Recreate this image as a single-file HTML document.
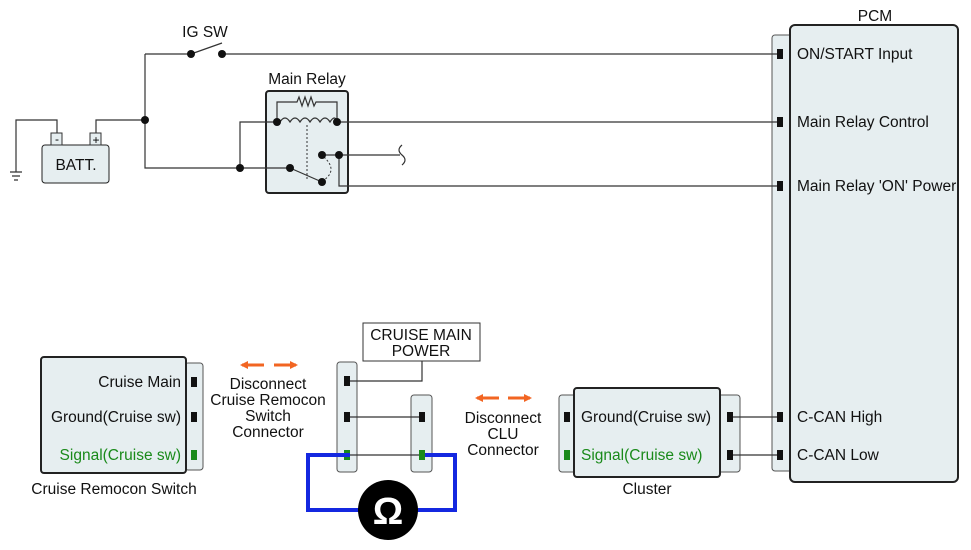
<!DOCTYPE html>
<html><head><meta charset="utf-8"><style>
body{margin:0;background:#fff}
svg{display:block;font-family:"Liberation Sans",Arial,sans-serif}
</style></head><body>
<svg width="971" height="550" viewBox="0 0 971 550" xmlns="http://www.w3.org/2000/svg">
<defs>
<marker id="ar" markerWidth="8" markerHeight="8" refX="6" refY="4" orient="auto" markerUnits="userSpaceOnUse"><path d="M0,0 L8,4 L0,8 z" fill="#f26522"/></marker>
</defs>
<g fill="#e6eef0" stroke="#555" stroke-width="1">
<rect x="772" y="35" width="22" height="436" rx="3"/>
<rect x="185" y="363" width="18" height="107" rx="3"/>
<rect x="337" y="362" width="20" height="110" rx="3"/>
<rect x="411" y="395" width="21" height="77" rx="3"/>
<rect x="559" y="395" width="18" height="77" rx="3"/>
<rect x="716" y="395" width="24" height="77" rx="3"/>
</g>
<g fill="#e6eef0" stroke="#222" stroke-width="2">
<rect x="790" y="25" width="168" height="457" rx="5"/>
<rect x="41" y="357" width="145" height="116" rx="3"/>
<rect x="574" y="388" width="146" height="89" rx="3"/>
<rect x="266" y="91" width="82" height="102" rx="3"/>
<rect x="42" y="145" width="67" height="38" rx="3" stroke-width="1"/>
</g>
<rect x="363" y="323" width="117" height="38" fill="#fff" stroke="#333"/>
<g stroke="#333" stroke-width="1.2" fill="none">
<path d="M145,54 H191 M222,54 H780 M191,54 L222,43"/>
<path d="M145,54 V168 H290 M96,134 V120 H145 M57,134 V120 H16 V172"/>
<path d="M10,172 H22 M12,176 H20 M14,180 H18"/>
<path d="M240,168 V122 H277 M337,122 H780"/>
<path d="M277,122 V102 H297 l2,-5 3,9 3,-9 3,9 3,-9 3,9 2,-4 H337 V122"/>
<path d="M280,122 q5,-8 10,0 q5,-8 10,0 q5,-8 10,0 q5,-8 10,0 q5,-8 10,0 q5,-8 7,0"/>
<path d="M322,155 H400 M339,155 V186 H780 M290,168 L322,182"/>
<path d="M402,145 q-6,5 0,10 q6,5 0,10"/>
<path d="M347,381 H422 V361 M347,417 H422 M347,455 H422 M730,417 H780 M730,455 H780"/>
</g>
<path d="M307,125 V180" stroke="#333" stroke-dasharray="2,2"/>
<path d="M324,157 Q338,170 324,180" stroke="#333" stroke-dasharray="2,2" fill="none"/>
<g fill="#111">
<circle cx="191" cy="54" r="4"/><circle cx="222" cy="54" r="4"/>
<circle cx="145" cy="120" r="4"/><circle cx="240" cy="168" r="4"/>
<circle cx="277" cy="122" r="4"/><circle cx="337" cy="122" r="4"/>
<circle cx="322" cy="155" r="4"/><circle cx="339" cy="155" r="4"/>
<circle cx="290" cy="168" r="4"/><circle cx="322" cy="182" r="4"/>
<rect x="777" y="49" width="6" height="10"/><rect x="777" y="117" width="6" height="10"/>
<rect x="777" y="181" width="6" height="10"/><rect x="777" y="412" width="6" height="10"/>
<rect x="777" y="450" width="6" height="10"/>
<rect x="191" y="377" width="6" height="10"/><rect x="191" y="412" width="6" height="10"/>
<rect x="344" y="376" width="6" height="10"/><rect x="344" y="412" width="6" height="10"/>
<rect x="419" y="412" width="6" height="10"/>
<rect x="564" y="412" width="6" height="10"/>
<rect x="727" y="412" width="6" height="10"/><rect x="727" y="450" width="6" height="10"/>
</g>
<g fill="#1a8a1a">
<rect x="191" y="450" width="6" height="10"/><rect x="344" y="450" width="6" height="10"/>
<rect x="419" y="450" width="6" height="10"/><rect x="564" y="450" width="6" height="10"/>
</g>
<rect x="51" y="133" width="11" height="12" fill="#e6eef0" stroke="#333"/>
<rect x="90" y="133" width="11" height="12" fill="#e6eef0" stroke="#333"/>
<text x="57" y="143" font-size="12" text-anchor="middle">-</text>
<text x="96" y="144" font-size="12" text-anchor="middle">+</text>
<path d="M350,455 H308 V510 H360 M416,510 H455 V455 H425" stroke="#1428e0" stroke-width="4" fill="none"/>
<circle cx="388" cy="510" r="30" fill="#000"/>
<text x="388" y="524" font-size="38" font-weight="bold" fill="#fff" text-anchor="middle">Ω</text>
<g stroke="#f26522" stroke-width="3" marker-end="url(#ar)">
<line x1="264" y1="365" x2="242" y2="365"/><line x1="274" y1="365" x2="296" y2="365"/>
<line x1="499" y1="398" x2="477" y2="398"/><line x1="508" y1="398" x2="530" y2="398"/>
</g>
<g font-size="15.5" fill="#111">
<text x="205" y="37" text-anchor="middle">IG SW</text>
<text x="307" y="84" text-anchor="middle">Main Relay</text>
<text x="76" y="170" text-anchor="middle">BATT.</text>
<text x="875" y="21" text-anchor="middle">PCM</text>
<text x="797" y="59">ON/START Input</text>
<text x="797" y="127">Main Relay Control</text>
<text x="797" y="191">Main Relay 'ON' Power</text>
<text x="797" y="422">C-CAN High</text>
<text x="797" y="460">C-CAN Low</text>
<text x="181" y="387" text-anchor="end">Cruise Main</text>
<text x="181" y="422" text-anchor="end">Ground(Cruise sw)</text>
<text x="181" y="460" text-anchor="end" fill="#1a8a1a">Signal(Cruise sw)</text>
<text x="114" y="494" text-anchor="middle">Cruise Remocon Switch</text>
<text x="268" y="389" text-anchor="middle">Disconnect</text>
<text x="268" y="405" text-anchor="middle">Cruise Remocon</text>
<text x="268" y="421" text-anchor="middle">Switch</text>
<text x="268" y="437" text-anchor="middle">Connector</text>
<text x="421" y="340" text-anchor="middle">CRUISE MAIN</text>
<text x="421" y="356" text-anchor="middle">POWER</text>
<text x="503" y="423" text-anchor="middle">Disconnect</text>
<text x="503" y="439" text-anchor="middle">CLU</text>
<text x="503" y="455" text-anchor="middle">Connector</text>
<text x="581" y="422">Ground(Cruise sw)</text>
<text x="581" y="460" fill="#1a8a1a">Signal(Cruise sw)</text>
<text x="647" y="494" text-anchor="middle">Cluster</text>
</g>
</svg>
</body></html>
